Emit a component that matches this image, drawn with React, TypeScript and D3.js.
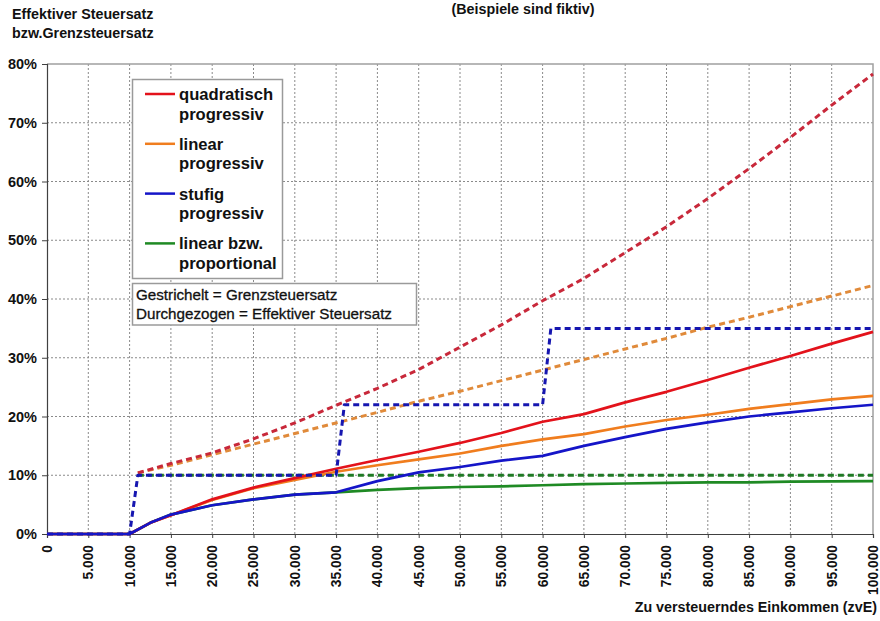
import React, { useEffect, useRef } from 'react';
import * as d3 from 'd3';

// Einkommen (zvE) für die durchgezogenen Linien (effektiver Steuersatz)
const incomes = [0, 5000, 10000, 12500, 15000, 20000, 25000, 30000, 35000, 40000, 45000, 50000,
  55000, 60000, 65000, 70000, 75000, 80000, 85000, 90000, 95000, 100000];

const effQuadratisch = [0, 0, 0, 1.9, 3.2, 5.9, 7.9, 9.5, 11.1, 12.6, 14.0, 15.5,
  17.2, 19.1, 20.4, 22.4, 24.2, 26.2, 28.3, 30.3, 32.4, 34.4];
const effLinear = [0, 0, 0, 1.9, 3.2, 5.8, 7.8, 9.2, 10.6, 11.7, 12.7, 13.7,
  15.0, 16.1, 17.0, 18.3, 19.4, 20.3, 21.3, 22.1, 22.9, 23.5];
const effStufig = [0, 0, 0, 1.9, 3.3, 4.9, 5.9, 6.7, 7.1, 9.0, 10.5, 11.4,
  12.5, 13.3, 15.0, 16.5, 17.9, 19.0, 20.0, 20.7, 21.4, 22.0];
const effProportional = [0, 0, 0, 1.9, 3.3, 4.9, 5.9, 6.7, 7.1, 7.5, 7.8, 8.0,
  8.1, 8.3, 8.5, 8.6, 8.7, 8.8, 8.8, 8.9, 8.95, 9.0];

// Grenzsteuersatz (gestrichelt)
const margIncomes = [11000, 15000, 20000, 25000, 30000, 35000, 40000, 45000, 50000, 55000,
  60000, 65000, 70000, 75000, 80000, 85000, 90000, 95000, 100000];
const grenzQuadratisch = [10.4, 12.0, 13.8, 16.2, 18.9, 21.9, 24.8, 28.0, 31.8, 35.6,
  39.7, 43.5, 47.9, 52.3, 57.1, 62.2, 67.5, 73.0, 78.3];
const grenzLinear = [10.4, 11.7, 13.5, 15.3, 17.1, 18.9, 20.7, 22.6, 24.3, 26.1,
  27.9, 29.7, 31.5, 33.3, 35.2, 36.9, 38.7, 40.5, 42.3];
const stufenIncomes = [0, 10000, 11000, 35000, 36000, 60000, 61000, 100000];
const grenzStufig = [0, 0, 10, 10, 22, 22, 35, 35];
const propIncomes = [11000, 100000];
const grenzProportional = [10, 10];

const xTicks = d3.range(0, 100001, 5000);
const yTicks = [0, 10, 20, 30, 40, 50, 60, 70, 80];

const legendItems = [
  { lines: ['quadratisch', 'progressiv'], color: '#e3121b' },
  { lines: ['linear', 'progressiv'], color: '#f07d1e' },
  { lines: ['stufig', 'progressiv'], color: '#1515c8' },
  { lines: ['linear bzw.', 'proportional'], color: '#1f8a24' },
];

const App: React.FC = () => {
  const svgRef = useRef<SVGSVGElement>(null);

  useEffect(() => {
    if (!svgRef.current) return;
    const svg = d3.select(svgRef.current);
    svg.selectAll('*').remove();

    const font = '"Liberation Sans", Arial, sans-serif';
    const left = 47, right = 873, top = 64, bottom = 534;

    const x = d3.scaleLinear().domain([0, 100000]).range([left, right]);
    const y = d3.scaleLinear().domain([0, 80]).range([bottom, top]);

    const de = d3.formatLocale({ decimal: ',', thousands: '.', grouping: [3], currency: ['', ' €'] });
    const fmt = de.format(',');

    // Gitternetz
    const grid = svg.append('g').attr('stroke', '#8a8a8a').attr('stroke-width', 1).attr('stroke-dasharray', '2,2');
    xTicks.filter(t => t > 0 && t < 100000).forEach(t => {
      grid.append('line').attr('x1', x(t)).attr('x2', x(t)).attr('y1', top).attr('y2', bottom);
    });
    yTicks.filter(t => t > 0 && t < 80).forEach(t => {
      grid.append('line').attr('x1', left).attr('x2', right).attr('y1', y(t)).attr('y2', y(t));
    });

    // Rahmen oben/rechts
    svg.append('path')
      .attr('d', `M${left},${top}H${right}V${bottom}`)
      .attr('fill', 'none').attr('stroke', '#a0a0a0').attr('stroke-width', 1.5);

    // Achsen
    const xAxis = svg.append('g')
      .attr('transform', `translate(0,${bottom})`)
      .call(d3.axisBottom(x).tickValues(xTicks).tickSize(4).tickFormat(() => ''));
    xAxis.select('.domain').attr('stroke', '#404040').attr('stroke-width', 1.2);
    xAxis.selectAll('.tick line').attr('stroke', '#404040');

    const yAxis = svg.append('g')
      .attr('transform', `translate(${left},0)`)
      .call(d3.axisLeft(y).tickValues(yTicks).tickSize(5).tickFormat(d => `${d}%`));
    yAxis.select('.domain').attr('stroke', '#404040').attr('stroke-width', 1.2);
    yAxis.selectAll('.tick line').attr('stroke', '#404040');
    yAxis.selectAll('.tick text')
      .attr('x', -10)
      .attr('font-family', font).attr('font-size', 14.5).attr('font-weight', 'bold').attr('fill', '#111');

    // x-Beschriftung gedreht
    svg.append('g').selectAll('text')
      .data(xTicks)
      .join('text')
      .attr('transform', d => `translate(${x(d)},545) rotate(-90)`)
      .attr('text-anchor', 'end')
      .attr('dy', '0.36em')
      .attr('font-family', font).attr('font-size', 13.8).attr('font-weight', 'bold').attr('fill', '#111')
      .text(d => fmt(d));

    const line = d3.line<[number, number]>()
      .x(d => x(d[0]))
      .y(d => y(d[1]));

    const zip = (xs: number[], ys: number[]) => xs.map((v, i) => [v, ys[i]] as [number, number]);

    const series = [
      { pts: zip(propIncomes, grenzProportional), color: '#1f7a24', dash: true },
      { pts: zip(incomes, effProportional), color: '#1f8a24', dash: false },
      { pts: zip(margIncomes, grenzLinear), color: '#e08a3a', dash: true },
      { pts: zip(incomes, effLinear), color: '#f07d1e', dash: false },
      { pts: zip(margIncomes, grenzQuadratisch), color: '#c8283a', dash: true },
      { pts: zip(incomes, effQuadratisch), color: '#e3121b', dash: false },
      { pts: zip(stufenIncomes, grenzStufig), color: '#1616b0', dash: true },
      { pts: zip(incomes, effStufig), color: '#1515c8', dash: false },
    ];

    series.forEach(s => {
      svg.append('path')
        .datum(s.pts)
        .attr('fill', 'none')
        .attr('stroke', s.color)
        .attr('stroke-width', s.dash ? 3 : 2.7)
        .attr('stroke-dasharray', s.dash ? '6,4' : null)
        .attr('stroke-linejoin', 'round')
        .attr('d', line);
    });

    // Legende
    const leg = svg.append('g');
    leg.append('rect')
      .attr('x', 132.5).attr('y', 79.5).attr('width', 150).attr('height', 199)
      .attr('fill', 'white').attr('stroke', '#9a9a9a').attr('stroke-width', 1.5);
    legendItems.forEach((item, i) => {
      const ly = 94 + i * 49.8;
      leg.append('line')
        .attr('x1', 145).attr('x2', 175).attr('y1', ly).attr('y2', ly)
        .attr('stroke', item.color).attr('stroke-width', 2.5);
      item.lines.forEach((t, j) => {
        leg.append('text')
          .attr('x', 179).attr('y', ly + 6 + j * 19.5)
          .attr('font-family', font).attr('font-size', 16.6).attr('font-weight', 'bold').attr('fill', '#111')
          .text(t);
      });
    });

    const note = svg.append('g');
    note.append('rect')
      .attr('x', 132.5).attr('y', 283.5).attr('width', 284).attr('height', 41.5)
      .attr('fill', 'white').attr('stroke', '#9a9a9a').attr('stroke-width', 1.5);
    ['Gestrichelt = Grenzsteuersatz', 'Durchgezogen = Effektiver Steuersatz'].forEach((t, i) => {
      note.append('text')
        .attr('x', 136).attr('y', 300 + i * 18.5)
        .attr('font-family', font).attr('font-size', 15.2).attr('fill', '#111')
        .attr('stroke', '#111').attr('stroke-width', 0.3)
        .text(t);
    });

    // Titel
    const txt = (tx: number, ty: number, t: string, anchor = 'start') =>
      svg.append('text')
        .attr('x', tx).attr('y', ty).attr('text-anchor', anchor)
        .attr('font-family', font).attr('font-size', 14.3).attr('font-weight', 'bold').attr('fill', '#111')
        .text(t);
    txt(12, 19, 'Effektiver Steuersatz');
    txt(12, 38, 'bzw.Grenzsteuersatz');
    txt(523, 14, '(Beispiele sind fiktiv)', 'middle');
    txt(877, 612, 'Zu versteuerndes Einkommen (zvE)', 'end');
  }, []);

  return (
    <svg
      ref={svgRef}
      width={880}
      height={621}
      style={{ position: 'absolute', left: 0, top: 0, background: 'white' }}
    />
  );
};

export default App;
